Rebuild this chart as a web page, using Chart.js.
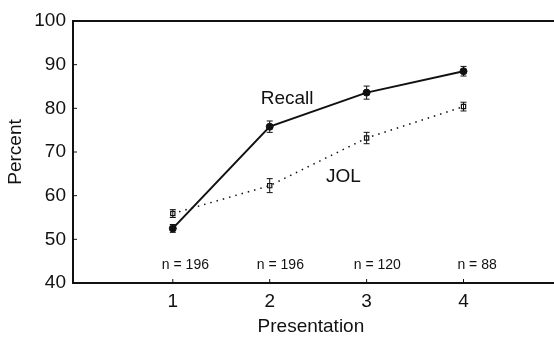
<!DOCTYPE html>
<html>
<head>
<meta charset="utf-8">
<script src="https://cdn.jsdelivr.net/npm/chart.js@4/dist/chart.umd.min.js"></script>
<style>
    html, body { margin: 0; padding: 0; background: #fff; }
    #wrap { width: 554px; height: 338px; position: relative; }
</style>
</head>
<body>
<div id="wrap"><canvas id="chart" width="554" height="338"></canvas></div>
<script>
const presentations = [1, 2, 3, 4];
const recallValues = [52.5, 75.8, 83.6, 88.5];
const recallErrors = [0.9, 1.3, 1.5, 1.1];
const jolValues = [55.9, 62.3, 73.2, 80.4];
const jolErrors = [0.9, 1.6, 1.3, 1.0];
const sampleLabels = ["n = 196", "n = 196", "n = 120", "n = 88"];
const sampleX = [1.13, 2.11, 3.11, 4.14];
const yTicks = [40, 50, 60, 70, 80, 90, 100];

const FONT = "'Liberation Sans', Arial, sans-serif";

function toPoints(values) {
    return presentations.map((x, i) => ({ x, y: values[i] }));
}

const figurePlugin = {
    id: "figure",
    afterDatasetsDraw(chart) {
        const { ctx, chartArea, scales } = chart;
        const xs = scales.x;
        const ys = scales.y;

        ctx.save();
        ctx.strokeStyle = "#111";
        ctx.fillStyle = "#111";

        // error bars
        const drawErrors = (values, errors) => {
            ctx.lineWidth = 1;
            values.forEach((v, i) => {
                const px = xs.getPixelForValue(presentations[i]);
                const top = ys.getPixelForValue(v + errors[i]);
                const bot = ys.getPixelForValue(v - errors[i]);
                ctx.beginPath();
                ctx.moveTo(px, top);
                ctx.lineTo(px, bot);
                ctx.moveTo(px - 3, top);
                ctx.lineTo(px + 3, top);
                ctx.moveTo(px - 3, bot);
                ctx.lineTo(px + 3, bot);
                ctx.stroke();
            });
        };
        drawErrors(recallValues, recallErrors);
        drawErrors(jolValues, jolErrors);

        // top frame line, run to the canvas edge like the cropped original
        ctx.lineWidth = 2;
        ctx.beginPath();
        ctx.moveTo(chartArea.left, chartArea.top);
        ctx.lineTo(chart.width, chartArea.top);
        ctx.stroke();

        // inward ticks
        ctx.lineWidth = 1;
        yTicks.forEach(t => {
            const py = ys.getPixelForValue(t);
            ctx.beginPath();
            ctx.moveTo(chartArea.left, py);
            ctx.lineTo(chartArea.left + 4, py);
            ctx.stroke();
        });
        presentations.forEach(t => {
            const px = xs.getPixelForValue(t);
            ctx.beginPath();
            ctx.moveTo(px, chartArea.bottom);
            ctx.lineTo(px, chartArea.bottom - 4);
            ctx.stroke();
        });

        // series labels
        ctx.font = "19px " + FONT;
        ctx.textAlign = "center";
        ctx.textBaseline = "middle";
        ctx.fillText("Recall", xs.getPixelForValue(2.18), ys.getPixelForValue(82.3));
        ctx.fillText("JOL", xs.getPixelForValue(2.76), ys.getPixelForValue(64.4));

        // sample sizes
        ctx.font = "14px " + FONT;
        sampleLabels.forEach((label, i) => {
            ctx.fillText(label, xs.getPixelForValue(sampleX[i]), ys.getPixelForValue(44.2));
        });
        ctx.restore();
    },
    afterDraw(chart) {
        // bottom axis line out to the canvas edge as well
        const { ctx, chartArea } = chart;
        ctx.save();
        ctx.strokeStyle = "#111";
        ctx.lineWidth = 2;
        ctx.beginPath();
        ctx.moveTo(chartArea.right - 1, chartArea.bottom);
        ctx.lineTo(chart.width, chartArea.bottom);
        ctx.stroke();
        ctx.restore();
    }
};

new Chart(document.getElementById("chart"), {
    type: "scatter",
    data: {
        datasets: [{
            label: "Recall",
            data: toPoints(recallValues),
            showLine: true,
            borderColor: "#111",
            backgroundColor: "#111",
            borderWidth: 2,
            pointStyle: "circle",
            pointRadius: 3.5,
            pointBorderWidth: 1
        }, {
            label: "JOL",
            data: toPoints(jolValues),
            showLine: true,
            borderColor: "#111",
            backgroundColor: "#fff",
            borderWidth: 1.5,
            borderDash: [1.5, 5],
            pointStyle: "rect",
            pointRadius: 3,
            pointBorderWidth: 1.2
        }]
    },
    options: {
        responsive: false,
        animation: false,
        layout: {
            padding: { top: 21, right: 0, bottom: 0, left: 0 }
        },
        plugins: {
            legend: { display: false },
            tooltip: { enabled: false }
        },
        scales: {
            x: {
                type: "linear",
                min: -0.03,
                max: 4.88,
                afterBuildTicks: scale => {
                    scale.ticks = presentations.map(v => ({ value: v }));
                },
                afterFit: scale => {
                    scale.height = 55;
                },
                grid: { display: false, drawTicks: false },
                border: { display: true, color: "#111", width: 2 },
                ticks: {
                    color: "#111",
                    padding: 7,
                    maxRotation: 0,
                    font: { family: FONT, size: 19 }
                },
                title: {
                    display: true,
                    text: "Presentation",
                    color: "#111",
                    padding: { top: 2, bottom: 0 },
                    font: { family: FONT, size: 19 }
                }
            },
            y: {
                min: 40,
                max: 100,
                afterBuildTicks: scale => {
                    scale.ticks = yTicks.map(v => ({ value: v }));
                },
                afterFit: scale => {
                    scale.width = 73;
                },
                grid: { display: false, drawTicks: false },
                border: { display: true, color: "#111", width: 2 },
                ticks: {
                    color: "#111",
                    padding: 7,
                    font: { family: FONT, size: 19 }
                },
                title: {
                    display: true,
                    text: "Percent",
                    color: "#111",
                    padding: { top: 4, bottom: 0 },
                    font: { family: FONT, size: 19 }
                }
            }
        }
    },
    plugins: [figurePlugin]
});
</script>
</body>
</html>
